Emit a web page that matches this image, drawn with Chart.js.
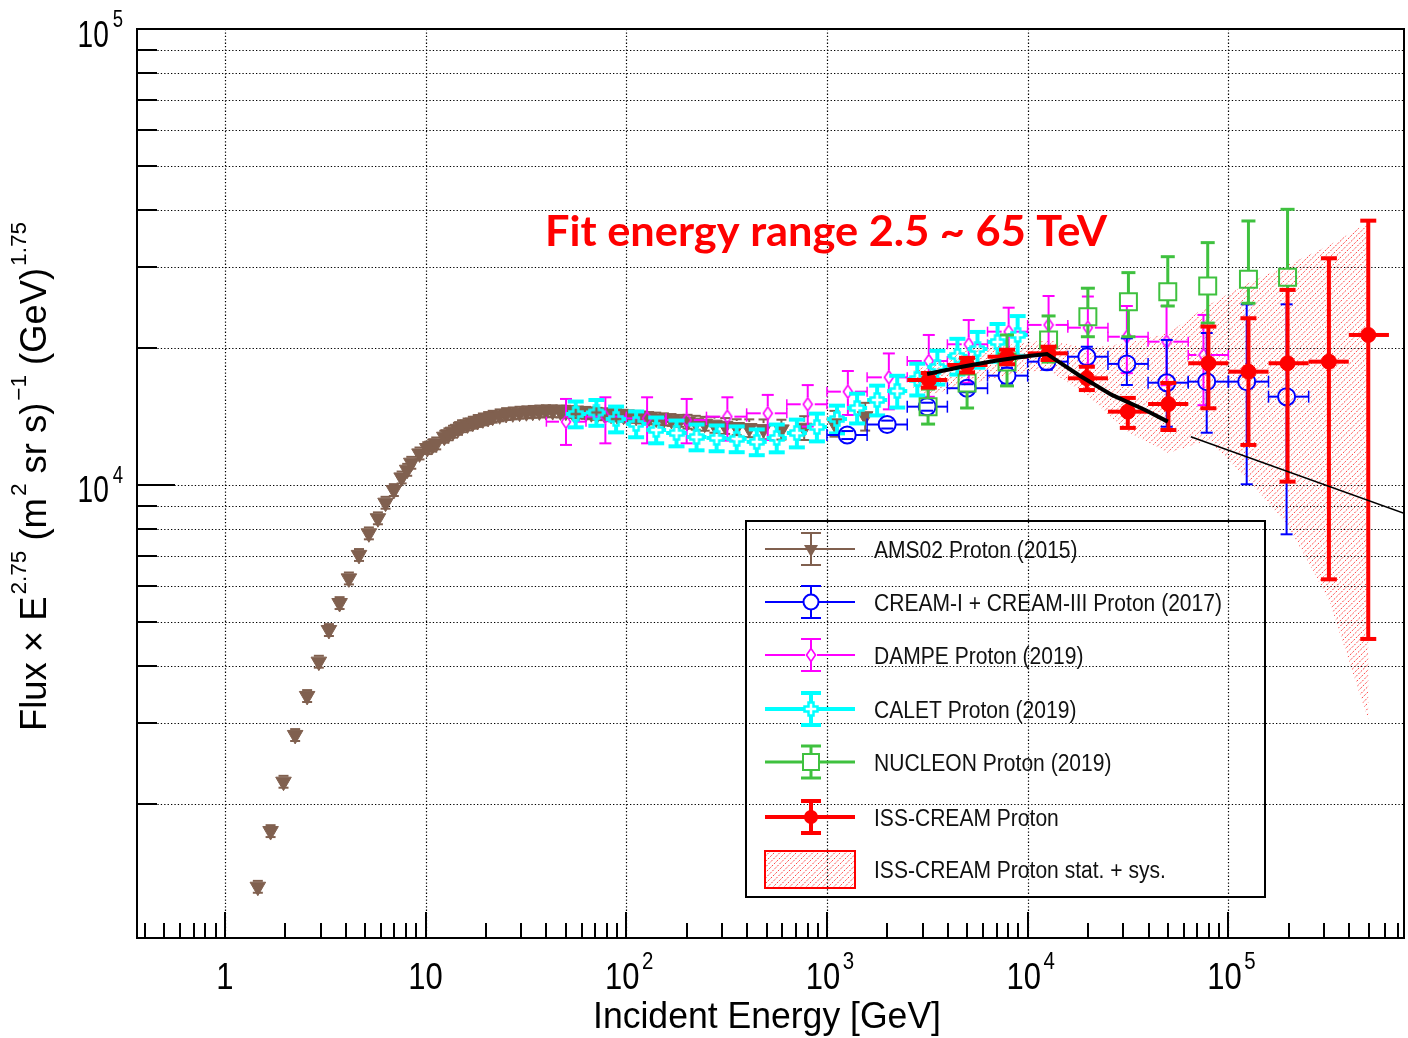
<!DOCTYPE html>
<html>
<head>
<meta charset="utf-8">
<script src="https://cdn.jsdelivr.net/npm/chart.js@4.4.1/dist/chart.umd.min.js"></script>
<style>
  html, body { margin: 0; padding: 0; background: #fff; }
  #wrap { width: 1408px; height: 1038px; }
</style>
</head>
<body>
<div id="wrap"><canvas id="myChart" width="1408" height="1038"></canvas></div>
<script>
// AMS02 proton (2015): energy [GeV], flux x E^2.75, error in %
const amsE = [1.46, 1.69, 1.96, 2.24, 2.57, 2.94, 3.30, 3.73, 4.15, 4.66, 5.22, 5.79, 6.32, 6.95, 7.6, 8.1, 8.49, 9.33, 10.2, 10.8,
  11.3, 12.4, 13.0, 13.7, 14.5, 15.2, 16.2, 17.2, 18.2, 19.3, 20.5, 21.6, 23.4, 25.2, 27.2, 29.4, 31.8, 34.2, 36.9, 39.8,
  43, 47, 50, 54, 58, 63, 67, 72, 78, 84, 90, 97, 104, 112, 121, 130, 141, 154, 168, 184,
  202, 222, 246, 275, 311, 355, 410, 483, 593, 770, 1090, 1550];
const amsF = [1315, 1742, 2235, 2830, 3446, 4098, 4808, 5510, 6240, 7025, 7835, 8454, 9145, 9750, 10390, 10800, 11190, 11730, 12050, 12200,
  12340, 12760, 12920, 13090, 13280, 13460, 13580, 13700, 13820, 13930, 14030, 14120, 14220, 14310, 14360, 14410, 14440, 14470, 14500, 14520,
  14520, 14500, 14480, 14460, 14430, 14400, 14370, 14330, 14300, 14260, 14230, 14190, 14150, 14110, 14070, 14030, 13990, 13940, 13890, 13830,
  13770, 13700, 13630, 13560, 13480, 13400, 13330, 13260, 13240, 13350, 13650, 14150];
const amsErrPct = [3, 3, 3, 3, 3, 3, 3, 3, 3, 3, 3, 3, 3, 3, 3, 3, 3, 3, 3, 3,
  3, 3, 3, 3, 3, 3, 3, 3, 3, 3, 3, 3, 3, 3, 3, 3, 3, 3, 3, 3,
  3, 3, 3, 3, 3, 3, 3, 3, 3, 3, 3, 3, 3, 3, 3, 3, 3, 3, 3, 3,
  3.5, 3.5, 3.5, 4, 4, 4, 4.5, 5, 5, 6, 6.5, 7];

// CREAM-I + CREAM-III proton (2017)
const creamE = [1262, 1995, 3155, 4990, 7890, 12470, 19720, 31200, 49300, 78000, 123400, 195000];
const creamF = [12870, 13570, 14850, 16300, 17370, 18640, 19110, 18430, 16760, 16850, 16850, 15620];
const creamHi = [13130, 13840, 15150, 16630, 18080, 19410, 20100, 20970, 20800, 21540, 24900, 24900];
const creamLo = [12610, 13300, 14550, 15970, 16680, 17900, 18170, 16570, 13420, 13020, 10035, 7795];
const creamEdges = [1000, 1585, 2512, 3981, 6310, 10000, 15850, 25120, 39810, 63100, 100000, 158500, 251200];

// DAMPE proton (2019)
const dampeE = [50.1, 78.7, 127, 200, 319, 507, 802, 1271, 2034, 3216, 5085, 8040, 12710, 19950, 31200, 49200, 75150];
const dampeF = [13765, 14120, 14000, 13880, 14120, 14360, 15030, 16020, 17220, 18700, 20350, 21690, 22440, 22130, 21140, 20620, 19280];
const dampeHi = [15440, 15570, 15570, 15440, 15570, 15760, 16560, 17780, 19430, 21330, 23000, 24480, 25970, 25900, 24690, 24690, 23600];
const dampeLo = [12240, 12340, 12340, 12340, 12510, 12550, 13430, 14240, 14650, 15610, 16760, 18900, 18910, 18360, 17590, 16550, 14960];
const dampeEdges = [40, 63, 100, 158, 251, 398, 631, 1000, 1585, 2512, 3981, 6310, 10000, 15850, 25120, 39810, 63100, 100000];

// CALET proton (2019)
const calE = [56, 71, 89, 112, 141, 178, 224, 282, 355, 447, 562, 708, 891, 1122, 1413, 1778, 2239, 2818, 3548, 4467, 5623, 7079, 8913];
const calF = [14310, 14420, 13950, 13610, 13200, 13000, 12740, 12680, 12620, 12430, 12680, 13000, 13400, 13950, 14750, 15360, 16070, 17080, 18150, 19190, 19870, 20590, 21330];
const calErrPct = [6.5, 6.5, 6.5, 6.5, 6.5, 6.5, 6.5, 6.5, 6.5, 6.5, 7, 7, 7, 7, 7.5, 7.5, 8, 8, 8.5, 9, 9, 9.5, 10];
const calEdges = [50, 63, 79, 100, 126, 158, 200, 251, 316, 398, 501, 631, 794, 1000, 1259, 1585, 1995, 2512, 3162, 3981, 5012, 6310, 7943, 10000];

// NUCLEON proton (2019)
const nucE = [3190, 4990, 7890, 12710, 19950, 31770, 49900, 78900, 125900, 197200];
const nucF = [14850, 16740, 18610, 20800, 23390, 25230, 26540, 27320, 28260, 28540];
const nucHi = [16230, 18800, 21330, 23480, 27010, 29220, 31670, 34000, 37930, 40230];
const nucLo = [13600, 14750, 16490, 18600, 21140, 21140, 24690, 22650, 25030, 26780];

// ISS-CREAM proton
const issE = [3216, 4990, 7890, 12710, 19720, 31550, 50250, 79500, 125900, 197200, 316900, 497700];
const issF = [16990, 18330, 19110, 19440, 17140, 14480, 15050, 18490, 17720, 18490, 18640, 21330];
const issHi = [17600, 19000, 19800, 20100, 18170, 15520, 16740, 22250, 23210, 26780, 31420, 37990];
const issLo = [16350, 17650, 18400, 18800, 16150, 13340, 13200, 14730, 12240, 10170, 6210, 4595];
const issEdges = [2512, 3981, 6310, 10000, 15850, 25120, 39810, 63100, 100000, 158500, 251200, 398100, 631000];
// stat. + sys. band
const bandE = [2700, 3216, 4990, 7890, 12710, 19720, 31550, 50250, 79500, 125900, 197200, 316900, 497700];
const bandHi = [17800, 18330, 19770, 20270, 20800, 19960, 20480, 21540, 24830, 27740, 30360, 33530, 37660];
const bandLo = [16300, 15760, 16560, 17420, 17870, 15760, 13060, 11750, 12550, 10250, 8170, 5595, 3055];

// broken power-law fit (2.5 - 65 TeV) and its extension
const fitE = [3155, 4710, 6905, 10110, 12470, 17940, 26250, 38520, 49900];
const fitF = [17520, 18170, 18730, 19180, 19380, 17430, 15760, 14600, 13770];
const extE = [65000, 750000];
const extF = [12760, 8666];

// axes
const xMin = 0.365, xMax = 750000;
const yMin = 1015, yMax = 100000;
const xTickVals = [1, 10, 100, 1000, 10000, 100000];
const xTickText = [['1', ''], ['10', ''], ['10', '2'], ['10', '3'], ['10', '4'], ['10', '5']];
const yTickVals = [10000, 100000];
const yTickText = [['10', '4'], ['10', '5']];
const xTitle = 'Incident Energy [GeV]';
const yTitle = [['Flux \u00d7 E', 0], ['2.75', 1], [' (m', 0], ['2', 1], [' sr s)', 0], ['\u22121', 1], [' (GeV)', 0], ['1.75', 1]];
const fitText = 'Fit energy range 2.5 ~ 65 TeV';
const legendLabels = ['AMS02 Proton (2015)', 'CREAM-I + CREAM-III Proton (2017)', 'DAMPE Proton (2019)',
  'CALET Proton (2019)', 'NUCLEON Proton (2019)', 'ISS-CREAM Proton', 'ISS-CREAM Proton stat. + sys.'];

// colours
const cBrown = '#80604f', cBlue = '#0000ff', cMag = '#ff00ff', cCyan = '#00ffff', cGreen = '#3fc13f', cRed = '#ff0000';

const pts = (E, F) => E.map((e, i) => ({x: e, y: F[i]}));

// маркеры-картинки
function mkCanvas(w, h, draw) {
  const c = document.createElement('canvas');
  c.width = w; c.height = h;
  draw(c.getContext('2d'));
  return c;
}
const diamondImg = mkCanvas(12, 16, g => {
  g.strokeStyle = cMag; g.lineWidth = 1.6;
  g.beginPath(); g.moveTo(6, 1.5); g.lineTo(10.5, 8); g.lineTo(6, 14.5); g.lineTo(1.5, 8); g.closePath(); g.stroke();
});
const crossImg = mkCanvas(16, 16, g => {
  g.strokeStyle = cCyan; g.lineWidth = 2.5;
  const a = 2.5, b = 6.5, c = 8;
  g.beginPath();
  g.moveTo(c - a, c - b); g.lineTo(c + a, c - b); g.lineTo(c + a, c - a); g.lineTo(c + b, c - a);
  g.lineTo(c + b, c + a); g.lineTo(c + a, c + a); g.lineTo(c + a, c + b); g.lineTo(c - a, c + b);
  g.lineTo(c - a, c + a); g.lineTo(c - b, c + a); g.lineTo(c - b, c - a); g.lineTo(c - a, c - a);
  g.closePath(); g.stroke();
});

// штриховка "////" внутри текущего пути
function hatchFill(g, pathFn, box) {
  g.save();
  g.beginPath(); pathFn(g); g.clip();
  g.strokeStyle = 'rgba(255,0,0,0.75)'; g.lineWidth = 1;
  g.setLineDash([2, 1.4]);
  g.beginPath();
  for (let c = box.l + box.t; c <= box.r + box.b; c += 5.5) {
    g.moveTo(c - box.b, box.b); g.lineTo(c - box.t, box.t);
  }
  g.stroke();
  g.restore();
}

const canvas = document.getElementById('myChart');
const ctx = canvas.getContext('2d');

// error bars per dataset index
const errSpecs = {};

const datasets = [
  {label: 'band-hi', data: pts(bandE, bandHi), showLine: true, borderWidth: 0, borderColor: 'rgba(0,0,0,0)', pointRadius: 0, fill: false, order: 9},
  {label: 'band-lo', data: pts(bandE, bandLo), showLine: true, borderWidth: 0, borderColor: 'rgba(0,0,0,0)', pointRadius: 0, fill: false, order: 9},
  {label: legendLabels[0], data: pts(amsE, amsF), showLine: false, pointStyle: 'triangle', pointRotation: 180, pointRadius: 9,
    pointBackgroundColor: cBrown, pointBorderColor: cBrown, pointBorderWidth: 1, borderColor: cBrown, order: 8},
  {label: legendLabels[2], data: pts(dampeE, dampeF), showLine: false, pointStyle: diamondImg, pointRadius: 6, borderColor: cMag, order: 7},
  {label: legendLabels[3], data: pts(calE, calF), showLine: false, pointStyle: crossImg, pointRadius: 6, borderColor: cCyan, order: 6},
  {label: legendLabels[1], data: pts(creamE, creamF), showLine: false, pointStyle: 'circle', pointRadius: 8.5,
    pointBackgroundColor: 'rgba(0,0,0,0)', pointBorderColor: cBlue, pointBorderWidth: 2, borderColor: cBlue, order: 5},
  {label: legendLabels[4], data: pts(nucE, nucF), showLine: false, pointStyle: 'rect', pointRadius: 12,
    pointBackgroundColor: 'rgba(0,0,0,0)', pointBorderColor: cGreen, pointBorderWidth: 2, borderColor: cGreen, order: 4},
  {label: legendLabels[5], data: pts(issE, issF), showLine: false, pointStyle: 'circle', pointRadius: 7.5,
    pointBackgroundColor: cRed, pointBorderColor: cRed, pointBorderWidth: 1, borderColor: cRed, order: 3},
  {label: 'fit', data: pts(fitE, fitF), showLine: true, borderColor: '#000', borderWidth: 4, pointRadius: 0, fill: false, order: 2},
  {label: 'fit-ext', data: pts(extE, extF), showLine: true, borderColor: '#000', borderWidth: 1.5, pointRadius: 0, fill: false, order: 1}
];

errSpecs[2] = {lo: amsF.map((f, i) => f * (1 - amsErrPct[i] / 100)), hi: amsF.map((f, i) => f * (1 + amsErrPct[i] / 100)), lw: 2, capV: 5, gap: 6};
errSpecs[3] = {lo: dampeLo, hi: dampeHi, edges: dampeEdges, lw: 2, capV: 6, capH: 5, gap: 7};
errSpecs[4] = {lo: calF.map((f, i) => f * (1 - calErrPct[i] / 100)), hi: calF.map((f, i) => f * (1 + calErrPct[i] / 100)), edges: calEdges, lw: 4, capV: 8, gap: 6};
errSpecs[5] = {lo: creamLo, hi: creamHi, edges: creamEdges, lw: 2, capV: 6, capH: 6, gap: 8.5};
errSpecs[6] = {lo: nucLo, hi: nucHi, lw: 3, capV: 7, gap: 8.5};
errSpecs[7] = {lo: issLo, hi: issHi, edges: issEdges, lw: 4, capV: 8, gap: 0};

function seg(g, x1, y1, x2, y2) {
  g.beginPath(); g.moveTo(x1, y1); g.lineTo(x2, y2); g.stroke();
}

const errBars = {
  id: 'errBars',
  beforeDatasetDraw(chart, args) {
    const g = chart.ctx, a = chart.chartArea;
    if (args.index === 0) {
      // заштрихованная полоса stat. + sys. между band-hi и band-lo
      const up = chart.getDatasetMeta(0).data, dn = chart.getDatasetMeta(1).data;
      const all = up.concat(dn);
      const box = {l: Math.min(...all.map(p => p.x)), r: Math.max(...all.map(p => p.x)),
        t: Math.min(...all.map(p => p.y)), b: Math.max(...all.map(p => p.y))};
      g.save();
      g.beginPath(); g.rect(a.left, a.top, a.right - a.left, a.bottom - a.top); g.clip();
      hatchFill(g, c => {
        c.moveTo(up[0].x, up[0].y);
        up.forEach(p => c.lineTo(p.x, p.y));
        for (let i = dn.length - 1; i >= 0; i--) c.lineTo(dn[i].x, dn[i].y);
        c.closePath();
      }, box);
      g.restore();
      return;
    }
    const e = errSpecs[args.index];
    if (!e) return;
    const ds = chart.data.datasets[args.index];
    const xs = chart.scales.x, ys = chart.scales.y;
    g.save();
    g.beginPath(); g.rect(a.left, a.top, a.right - a.left, a.bottom - a.top); g.clip();
    g.strokeStyle = ds.borderColor; g.lineWidth = e.lw; g.lineCap = 'butt';
    ds.data.forEach((p, i) => {
      const px = xs.getPixelForValue(p.x), py = ys.getPixelForValue(p.y);
      const gap = e.gap;
      if (e.lo) {
        const yh = ys.getPixelForValue(e.hi[i]), yl = ys.getPixelForValue(e.lo[i]);
        if (py - gap > yh) seg(g, px, yh, px, py - gap);
        if (py + gap < yl) seg(g, px, py + gap, px, yl);
        if (e.capV) {
          seg(g, px - e.capV, yh, px + e.capV, yh);
          seg(g, px - e.capV, yl, px + e.capV, yl);
        }
      }
      if (e.edges) {
        const xl = xs.getPixelForValue(e.edges[i]), xh = xs.getPixelForValue(e.edges[i + 1]);
        if (px - gap > xl) seg(g, xl, py, px - gap, py);
        if (px + gap < xh) seg(g, px + gap, py, xh, py);
        if (e.capH) {
          g.save(); g.lineWidth = Math.max(1.5, e.lw - 0.5);
          seg(g, xl, py - e.capH, xl, py + e.capH);
          seg(g, xh, py - e.capH, xh, py + e.capH);
          g.restore();
        }
      }
    });
    g.restore();
  }
};

// текст с верхними индексами, сжатие по горизонтали
function richText(g, parts, x, y, size, opt) {
  opt = opt || {};
  const fam = opt.family || '"Liberation Sans", Arial, sans-serif';
  const wt = opt.bold ? 'bold ' : '';
  const sup = size * (opt.supScale || 0.62);
  const supGap = opt.supGap || 0;
  let w = 0;
  parts.forEach(p => {
    g.font = wt + (p[1] ? sup : size) + 'px ' + fam;
    w += g.measureText(p[0]).width + (p[1] ? supGap : 0);
  });
  const sx = opt.width ? opt.width / w : (opt.sx || 1);
  const total = w * sx;
  const x0 = opt.align === 'right' ? -total : (opt.align === 'center' ? -total / 2 : 0);
  g.save();
  g.translate(x, y);
  if (opt.rotate) g.rotate(opt.rotate);
  g.translate(x0, 0);
  g.scale(sx, 1);
  g.fillStyle = opt.color || '#000';
  g.textAlign = 'left';
  g.textBaseline = 'alphabetic';
  let cx = 0;
  parts.forEach(p => {
    g.font = wt + (p[1] ? sup : size) + 'px ' + fam;
    if (p[1]) cx += supGap;
    g.fillText(p[0], cx, p[1] ? -size * 0.55 : 0);
    cx += g.measureText(p[0]).width;
  });
  g.restore();
  return sx;
}

function minorVals(lo, hi) {
  const out = [];
  for (let k = -1; k <= 6; k++) {
    for (let m = 1; m <= 9; m++) {
      const v = m * Math.pow(10, k);
      if (v > lo * 1.0001 && v < hi * 0.9999) out.push({v: v, major: m === 1});
    }
  }
  return out;
}

const frame = {
  id: 'frame',
  beforeDatasetsDraw(chart) {
    const g = chart.ctx, a = chart.chartArea;
    const xs = chart.scales.x, ys = chart.scales.y;
    g.save();
    g.strokeStyle = '#000'; g.lineWidth = 1.2;
    g.setLineDash([1.3, 2.1]);
    minorVals(yMin, yMax).forEach(t => {
      const y = Math.round(ys.getPixelForValue(t.v)) + 0.5;
      seg(g, a.left, y, a.right, y);
    });
    xTickVals.forEach(v => {
      const x = Math.round(xs.getPixelForValue(v)) + 0.5;
      seg(g, x, a.top, x, a.bottom);
    });
    g.restore();
  },
  afterDatasetsDraw(chart) {
    const g = chart.ctx, a = chart.chartArea;
    const xs = chart.scales.x, ys = chart.scales.y;
    g.save();
    g.strokeStyle = '#000'; g.lineWidth = 2;
    g.strokeRect(a.left, a.top, a.right - a.left, a.bottom - a.top);
    minorVals(yMin, yMax).forEach(t => {
      const y = Math.round(ys.getPixelForValue(t.v));
      seg(g, a.left, y, a.left + (t.major ? 38 : 20), y);
    });
    minorVals(xMin, xMax).forEach(t => {
      const x = Math.round(xs.getPixelForValue(t.v));
      seg(g, x, a.bottom, x, a.bottom - (t.major ? 26 : 15));
    });
    g.restore();

    xTickVals.forEach((v, i) => {
      const t = xTickText[i];
      const parts = t[1] ? [[t[0], 0], [t[1], 1]] : [[t[0], 0]];
      richText(g, parts, xs.getPixelForValue(v) + (t[1] ? 3 : 0), a.bottom + 51, 36,
        {sx: 0.86, align: 'center', supGap: 3, supScale: 0.66});
    });
    yTickVals.forEach((v, i) => {
      const t = yTickText[i];
      richText(g, [[t[0], 0], [t[1], 1]], a.left - 14, ys.getPixelForValue(v) + 17.5, 36,
        {sx: 0.78, align: 'right', supGap: 5, supScale: 0.66});
    });
    richText(g, [[xTitle, 0]], 767, 1028, 37, {width: 348, align: 'center'});
    richText(g, yTitle, 46, 476.5, 36, {width: 509, align: 'center', rotate: -Math.PI / 2, supGap: 2});
  },
  afterDraw(chart) {
    const g = chart.ctx;
    // legend
    const box = {l: 746, t: 521, r: 1265, b: 897};
    g.save();
    g.strokeStyle = '#000'; g.lineWidth = 2;
    g.strokeRect(box.l, box.t, box.r - box.l, box.b - box.t);
    const rows = [549, 602, 655, 709, 762, 817, 869];
    const mx = 811, lx1 = 765, lx2 = 855;
    const spec = [
      {c: cBrown, lw: 2, mk: 'tri'}, {c: cBlue, lw: 2, mk: 'circ'}, {c: cMag, lw: 2, mk: 'dia'},
      {c: cCyan, lw: 4, mk: 'cross'}, {c: cGreen, lw: 3, mk: 'sq'}, {c: cRed, lw: 4, mk: 'dot'}
    ];
    spec.forEach((s, i) => {
      const y = rows[i];
      g.strokeStyle = s.c; g.fillStyle = s.c; g.lineWidth = s.lw;
      const gap = s.mk === 'circ' || s.mk === 'sq' ? 8 : (s.mk === 'cross' ? 6 : (s.mk === 'dia' ? 6 : 0));
      seg(g, lx1, y, mx - gap, y); seg(g, mx + gap, y, lx2, y);
      seg(g, mx, y - 16, mx, y - gap); seg(g, mx, y + gap, mx, y + 16);
      seg(g, mx - 10, y - 16, mx + 10, y - 16); seg(g, mx - 10, y + 16, mx + 10, y + 16);
      g.lineWidth = 2;
      if (s.mk === 'tri') {
        g.beginPath(); g.moveTo(mx - 7, y - 4); g.lineTo(mx + 7, y - 4); g.lineTo(mx, y + 8); g.closePath(); g.fill();
      } else if (s.mk === 'circ') {
        g.beginPath(); g.arc(mx, y, 7.5, 0, Math.PI * 2); g.stroke();
      } else if (s.mk === 'dia') {
        g.drawImage(diamondImg, mx - 6, y - 8);
      } else if (s.mk === 'cross') {
        g.drawImage(crossImg, mx - 8, y - 8);
      } else if (s.mk === 'sq') {
        g.strokeRect(mx - 8, y - 8, 16, 16);
      } else {
        g.beginPath(); g.arc(mx, y, 7, 0, Math.PI * 2); g.fill();
      }
    });
    const yb = rows[6];
    const hb = {l: lx1, t: yb - 18, r: lx2, b: yb + 19};
    hatchFill(g, c => c.rect(hb.l, hb.t, hb.r - hb.l, hb.b - hb.t), hb);
    g.strokeStyle = cRed; g.lineWidth = 2;
    g.strokeRect(hb.l, hb.t, hb.r - hb.l, hb.b - hb.t);
    g.restore();

    const sx = richText(g, [[legendLabels[1], 0]], 874, rows[1] + 8.5, 23.5, {width: 348, color: '#111'});
    legendLabels.forEach((t, i) => {
      if (i !== 1) richText(g, [[t, 0]], 874, rows[i] + 8.5, 23.5, {sx: sx, color: '#111'});
    });

    richText(g, [[fitText, 0]], 545, 246, 42, {width: 562, bold: true, family: 'Lato, "Open Sans", sans-serif', color: cRed});
  }
};

new Chart(ctx, {
  type: 'line',
  data: {datasets: datasets},
  options: {
    responsive: false,
    devicePixelRatio: 1,
    animation: false,
    layout: {autoPadding: false, padding: {left: 137, top: 29, right: 4, bottom: 100}},
    plugins: {legend: {display: false}, tooltip: {enabled: false}},
    elements: {line: {tension: 0}},
    scales: {
      x: {type: 'logarithmic', min: xMin, max: xMax, display: false},
      y: {type: 'logarithmic', min: yMin, max: yMax, display: false}
    }
  },
  plugins: [errBars, frame]
});
</script>
</body>
</html>
